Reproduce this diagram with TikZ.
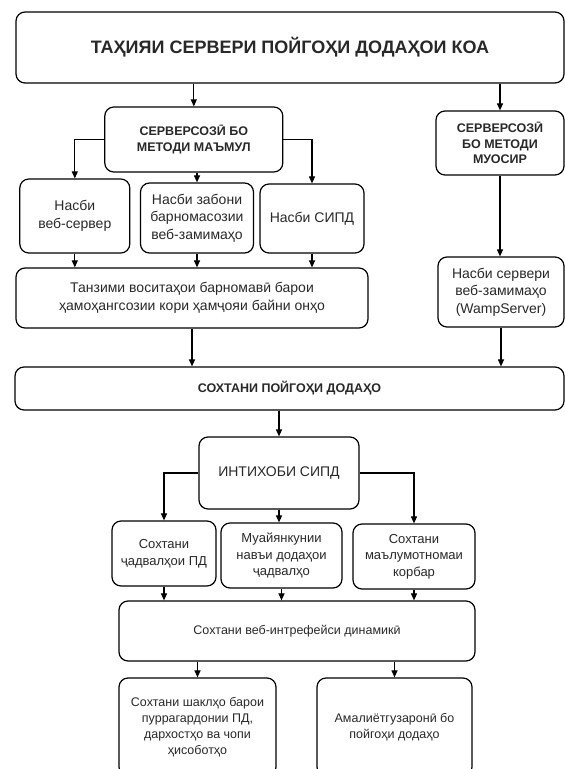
\documentclass[tikz,border=0pt]{standalone}
\usepackage{fontspec}
\setmainfont{Liberation Sans}
\usetikzlibrary{arrows.meta}
\definecolor{ink}{RGB}{40,40,40}
\tikzset{
  box/.style={draw=black,rounded corners=9pt,line width=1.2pt,align=center,
    inner sep=2pt,text=ink,font=\fontsize{14}{17.5}\selectfont},
  head/.style={font=\fontsize{18}{22}\selectfont\bfseries},
  capt/.style={font=\fontsize{12.5}{15.5}\selectfont\bfseries},
  body/.style={},
  lower/.style={font=\fontsize{13}{16.5}\selectfont},
  least/.style={font=\fontsize{12.5}{16}\selectfont},
  arr/.style={-{Triangle[length=7pt,width=6pt]},line width=1.1pt}
}
\begin{document}
\begin{tikzpicture}[x=1pt,y=-1pt]
      \useasboundingbox (0,0) rectangle (565,769);
      \def \Boxes{
        top/head/290/47.5/548/71/{ТАҲИЯИ СЕРВЕРИ ПОЙГОҲИ ДОДАҲОИ КОА},
        classic/capt/193.8/139.5/178/65/{СЕРВЕРСОЗӢ БО\\МЕТОДИ МАЪМУЛ},
        modern/capt/500/143/128/64/{СЕРВЕРСОЗӢ\\БО МЕТОДИ\\МУОСИР},
        serv/body/74.8/216/110/74/{Насби\\веб-сервер},
        lang/body/197/218/113/70/{Насби забони\\барномасозии\\веб-замимаҳо},
        sipd/body/312/218.5/104/69/{Насби СИПД},
        tanzim/body/192/298/352/60/{Танзими воситаҳои барномавӣ барои\\ҳамоҳангсозии кори ҳамҷояи байни онҳо},
        wamp/body/501/292/126/70/{Насби сервери\\веб-замимаҳо\\(WampServer)},
        soxt/capt/289.5/388.5/549/43/{СОХТАНИ ПОЙГОҲИ ДОДАҲО},
        intix/body/279/473/160/72/{ИНТИХОБИ СИПД},
        tabl/lower/164/553.5/104/65/{Сохтани\\ҷадвалҳои ПД},
        navj/lower/281.5/555.5/121/65/{Муайянкунии\\навъи додаҳои\\ҷадвалҳо},
        korb/lower/414/556.5/122/65/{Сохтани\\маълумотномаи\\корбар},
        veb/least/297/631/356/60/{Сохтани веб-интрефейси динамикӣ},
        forms/least/197.5/727/157/98/{Сохтани шаклҳо барои\\пуррагардонии ПД,\\дархостҳо ва чопи\\ҳисоботҳо},
        amal/least/394.5/727/155/98/{Амалиётгузаронӣ бо\\пойгоҳи додаҳо}}
      \def \Down{
        serv/tanzim,
        lang/tanzim,
        sipd/tanzim,
        modern/wamp,
        tanzim/soxt,
        wamp/soxt,
        intix/navj,
        tabl/veb,
        navj/veb,
        korb/veb}
      \def \Drop{
        top/classic,
        top/modern,
        classic/lang,
        soxt/intix,
        veb/forms,
        veb/amal}
      \foreach \id / \st / \x / \y / \w / \h / \lb in \Boxes{
        \node[box,\st,minimum width=\w,minimum height=\h] (\id) at (\x, \y) {\lb};
      }
      \foreach \a / \b in \Down{
        \path[draw,arr] (\a.south) -- (\a.south |- \b.north);
      }
      \foreach \a / \b in \Drop{
        \path[draw,arr] (\a.south -| \b.north) -- (\b.north);
      }
      \path[draw,arr] (classic.west) -| (serv.north);
      \path[draw,arr] (classic.east) -| (sipd.north);
      \path[draw,arr] (intix.west) -| (tabl.north);
      \path[draw,arr] (intix.east) -| (korb.north);
    \end{tikzpicture}
\end{document}
